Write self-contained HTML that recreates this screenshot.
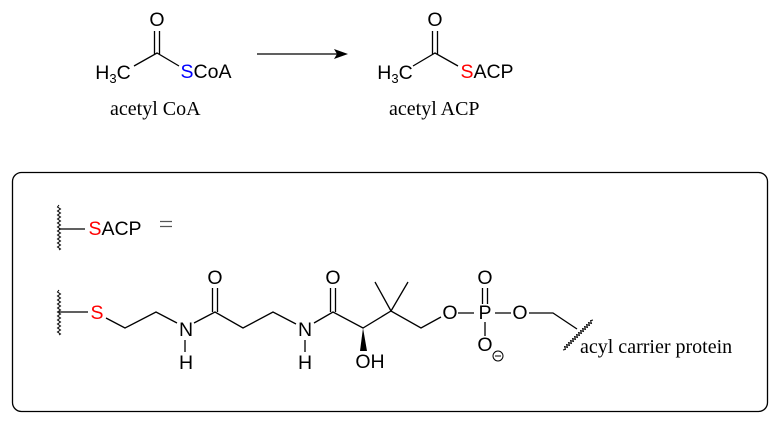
<!DOCTYPE html>
<html><head><meta charset="utf-8"><style>
html,body{margin:0;padding:0;background:#fff}
svg{display:block}
.a{font-family:"Liberation Sans",sans-serif;font-size:19.5px;text-anchor:middle;dominant-baseline:central}
.s{font-family:"Liberation Serif",serif;font-size:20px}
</style></head><body>
<svg width="784" height="423" viewBox="0 0 784 423" xmlns="http://www.w3.org/2000/svg">
<g stroke="#000" stroke-width="1.3" fill="none">
<path d="M134 66 L157 53 L179 66"/>
<path d="M154.5 31 V54 M159.5 31 V54"/>
<path d="M257 54 H340"/>
<path d="M413 66 L435 53 L458 66"/>
<path d="M432.5 31 V54 M437.5 31 V54"/>
<rect x="12.5" y="172.5" width="755" height="239" rx="9"/>
<path d="M59 229 H85"/>
<path d="M59 205 l-1.5 2 l3 2 l-3 2 l3 2 l-3 2 l3 2 l-3 2 l3 2 l-3 2 l3 2 l-3 2 l3 2 l-3 2 l3 2 l-3 2 l3 2 l-3 2 l3 2 l-3 2 l3 2 l-3 2 l3 2 l-1.5 1" stroke-width="1"/>
<path d="M160 221.5 H172 M160 226.5 H172" stroke="#555"/>
<path d="M59 290 l-1.5 2 l3 2 l-3 2 l3 2 l-3 2 l3 2 l-3 2 l3 2 l-3 2 l3 2 l-3 2 l3 2 l-3 2 l3 2 l-3 2 l3 2 l-3 2 l3 2 l-3 2 l3 2 l-3 2 l3 2 l-1.5 1" stroke-width="1"/>
<path d="M59 312 H88"/>
<path d="M106 318 L125 328 L156 312 L177 323"/>
<path d="M185 340 V352"/>
<path d="M194 323 L215 312 L243 328 L273 312 L296 324"/>
<path d="M212.5 288 V312 M217.5 288 V312"/>
<path d="M305 340 V352"/>
<path d="M314 323 L333 312 L363 328 L391 311 L421 328 L441 317"/>
<path d="M330.5 288 V312 M335.5 288 V312"/>
<path d="M391 311 L375 282 M391 311 L408 282"/>
<path d="M458 313 H474 M495 313 H511"/>
<path d="M482.5 288 V304 M487.5 288 V304"/>
<path d="M485 322 V336"/>
<path d="M529 313 H553 L577 329"/>
<path d="M563 350 L565.4 349.4 L564.6 346.6 L567.4 347.4 L566.6 344.6 L569.4 345.4 L568.6 342.6 L571.4 343.4 L570.6 340.6 L573.4 341.4 L572.6 338.6 L575.4 339.4 L574.6 336.6 L577.4 337.4 L576.6 334.6 L579.4 335.4 L578.6 332.6 L581.4 333.4 L580.6 330.6 L583.4 331.4 L582.6 328.6 L585.4 329.4 L584.6 326.6 L587.4 327.4 L586.6 324.6 L589.4 325.4 L588.6 322.6 L591.4 323.4 L590.6 320.6 L593 320" stroke-width="1"/>
<circle cx="498" cy="356" r="5" stroke-width="1"/>
<path d="M495 356 H501" stroke-width="1"/>
</g>
<path d="M363 328 L360 351 L367 351 Z" fill="#000"/>
<path d="M348 54 L334 49 L337 54 L334 59 Z" fill="#000"/>
<text class="a" x="157" y="20">O</text>
<text class="a" x="113" y="73">H<tspan font-size="13" dy="5">3</tspan><tspan dy="-5">C</tspan></text>
<text class="a" x="206" y="72"><tspan fill="#0000ff">S</tspan>CoA</text>
<text class="s" x="110" y="115">acetyl CoA</text>
<text class="a" x="435" y="20">O</text>
<text class="a" x="395" y="73">H<tspan font-size="13" dy="5">3</tspan><tspan dy="-5">C</tspan></text>
<text class="a" x="487" y="72"><tspan fill="#ff0000">S</tspan>ACP</text>
<text class="s" x="389" y="115">acetyl ACP</text>
<text class="a" x="115" y="229"><tspan fill="#ff0000">S</tspan>ACP</text>
<text class="a" x="97" y="313" fill="#ff0000">S</text>
<text class="a" x="186" y="330">N</text>
<text class="a" x="186" y="363">H</text>
<text class="a" x="215" y="278">O</text>
<text class="a" x="305" y="330">N</text>
<text class="a" x="305" y="363">H</text>
<text class="a" x="333" y="278">O</text>
<text class="a" x="370" y="362">OH</text>
<text class="a" x="450" y="313">O</text>
<text class="a" x="485" y="313">P</text>
<text class="a" x="485" y="278">O</text>
<text class="a" x="520" y="313">O</text>
<text class="a" x="485" y="345">O</text>
<text class="s" x="580" y="353">acyl carrier protein</text>
</svg>
</body></html>
